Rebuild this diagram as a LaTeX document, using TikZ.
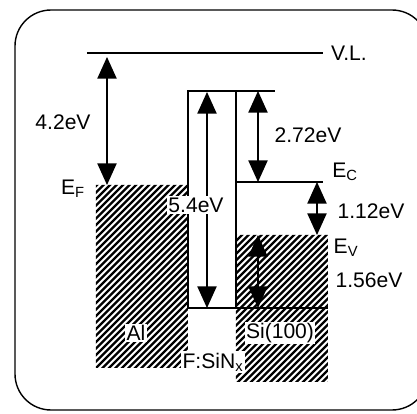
\documentclass[tikz,border=0pt]{standalone}
\usepackage{fontspec}
\setmainfont{Liberation Sans}
\usetikzlibrary{arrows.meta, positioning}

\begin{document}
\begin{tikzpicture}[x=0.25mm, y=-0.25mm, line width=1pt,
    >={Triangle[width=4.8mm,length=5.4mm]},
    hatchline/.style={line width=1.6pt},
    lbl/.style={font=\fontsize{15}{17}\selectfont, inner sep=1pt},
    tag/.style={lbl, fill=white}]

    % ================= frame =================
    \useasboundingbox (0,0) rectangle (417,414);
    \draw[rounded corners=9mm] (15,10) rectangle (428,410);

    % ================= hatched regions (Al, Si) =================
    \begin{scope}
        \clip (96,185) rectangle (188,368) (236,235) rectangle (328,382);
        \foreach \k in {-300,-293.5,...,400}
            \draw[hatchline] (\k,400) -- ++(250,-250);
    \end{scope}

    % ================= levels =================
    \coordinate (VLl) at (87,53);
    \coordinate (VLr) at (323,53);
    \coordinate (BTl) at (188,91);
    \coordinate (BTr) at (275,91);
    \coordinate (BB)  at (236,308);
    \coordinate (ECl) at (236,182);
    \coordinate (ECr) at (323,182);
    \coordinate (SIl) at (236,308);
    \coordinate (SIr) at (328,308);

    % F:SiNx barrier
    \draw[fill=white] (BTl) rectangle (BB);
    \draw (BTl) -- (BTr);
    \draw (VLl) -- (VLr);
    \draw (ECl) -- (ECr);
    \draw (SIl) -- (SIr);

    % ================= arrows =================
    \coordinate (a1t) at (107,57);  \coordinate (a1b) at (107,185);
    \coordinate (a2t) at (207,92);  \coordinate (a2b) at (207,308);
    \coordinate (a3t) at (258,91);  \coordinate (a3b) at (258,182);
    \coordinate (a4t) at (317,182); \coordinate (a4b) at (317,235);
    \coordinate (a5t) at (258,235); \coordinate (a5b) at (258,308);

    \draw[<->] (a1t) -- (a1b);
    \draw[<->] (a2t) -- (a2b);
    \draw[<->] (a3t) -- (a3b);
    \draw[<->] (a4t) -- (a4b);
    \draw[<->] (a5t) -- (a5b);

    % ================= texts =================
    \node[lbl, right] (VL) at (329,53) {V.L.};
    \node[lbl] (W)   at (63,122)  {4.2eV};
    \node[lbl] (EF)  at (73,189)  {E\textsubscript{F}};
    \node[tag] (Eg)  at (196,205) {5.4eV};
    \node[lbl] (dEc) at (308,135) {2.72eV};
    \node[lbl] (EC)  at (345,172) {E\textsubscript{C}};
    \node[lbl] (Egs) at (371,211) {1.12eV};
    \node[lbl] (EV)  at (346,248) {E\textsubscript{V}};
    \node[lbl] (dEv) at (369,280) {1.56eV};
    \node[tag] (Al)  at (136,333) {Al};
    \node[tag] (Si)  at (280,333) {Si(100)};
    \node[tag] (SiN) at (213,362) {F:SiN\textsubscript{x}};

\end{tikzpicture}
\end{document}
